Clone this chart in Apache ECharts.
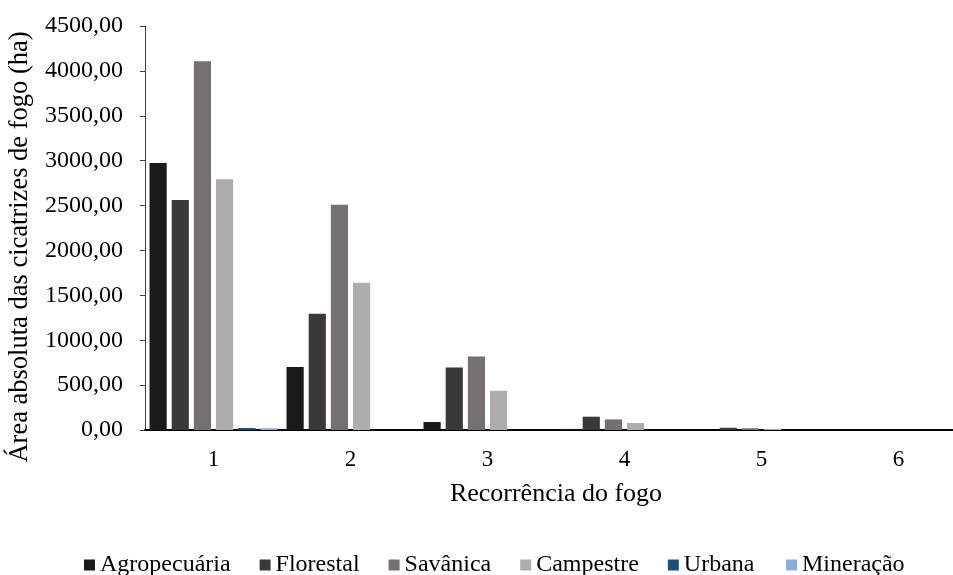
<!DOCTYPE html>
<html>
<head>
<meta charset="utf-8">
<script src="https://cdn.jsdelivr.net/npm/echarts@6/dist/echarts.min.js"></script>
<style>
  html, body { margin: 0; padding: 0; background: #fff; overflow: hidden; }
  #chart { width: 980px; height: 575px; }
</style>
</head>
<body>
<div id="chart"></div>
<script>
// Recorrência do fogo (número de vezes que a área queimou)
const categories = ['1', '2', '3', '4', '5', '6'];

// Área absoluta das cicatrizes de fogo (ha) por classe de uso e cobertura
const agropecuaria = [2975, 703, 89, 12, 0, 0];
const florestal    = [2563, 1296, 696, 148, 25, 0];
const savanica     = [4107, 2510, 820, 118, 20, 0];
const campestre    = [2793, 1641, 437, 78, 12, 0];
const urbana       = [22, 0, 0, 0, 0, 0];
const mineracao    = [20, 0, 0, 0, 0, 0];

const seriesNames = ['Agropecuária', 'Florestal', 'Savânica', 'Campestre', 'Urbana', 'Mineração'];
const seriesData = [agropecuaria, florestal, savanica, campestre, urbana, mineracao];
const seriesColors = ['#1a1a1a', '#3b3938', '#767170', '#afabab', '#1f4e79', '#8faadc'];

const FONT = '"Liberation Serif", "DejaVu Serif", serif';

const chart = echarts.init(document.getElementById('chart'), null, { renderer: 'canvas' });

const legendBase = {
  top: 548,
  icon: 'rect',
  itemWidth: 11,
  itemHeight: 11,
  itemGap: 29,
  textStyle: { fontFamily: FONT, fontSize: 24, color: '#000' }
};

chart.setOption({
  animation: false,
  backgroundColor: '#ffffff',
  textStyle: { fontFamily: FONT, color: '#000' },
  grid: { left: 145, top: 26, width: 822, height: 404, containLabel: false },
  legend: [
    Object.assign({ left: 79, data: seriesNames.slice(0, 5) }, legendBase),
    Object.assign({ left: 781, data: seriesNames.slice(5) }, legendBase)
  ],
  xAxis: {
    type: 'category',
    data: categories,
    name: 'Recorrência do fogo',
    nameLocation: 'middle',
    nameGap: 51,
    nameTextStyle: { fontFamily: FONT, fontSize: 26, color: '#000' },
    axisLine: { show: true, lineStyle: { color: '#000', width: 2 } },
    axisTick: { show: false },
    axisLabel: { fontFamily: FONT, fontSize: 23, color: '#000', margin: 18 },
    splitLine: { show: false }
  },
  yAxis: {
    type: 'value',
    min: 0,
    max: 4500,
    interval: 500,
    axisLine: { show: true, lineStyle: { color: '#3f3f3f', width: 1 } },
    axisTick: { show: true, inside: false, length: 5, lineStyle: { color: '#3f3f3f' } },
    axisLabel: {
      fontFamily: FONT, fontSize: 24, color: '#000', margin: 22,
      formatter: v => v.toFixed(2).replace('.', ',')
    },
    splitLine: { show: false }
  },
  graphic: [{
    type: 'text',
    x: 20,
    y: 247,
    rotation: Math.PI / 2,
    style: {
      text: 'Área absoluta das cicatrizes de fogo (ha)',
      font: '26.5px ' + FONT,
      fill: '#000',
      align: 'center',
      verticalAlign: 'middle'
    }
  }],
  series: seriesNames.map((name, i) => ({
    name,
    type: 'bar',
    data: seriesData[i],
    barGap: '29%',
    barCategoryGap: '6.6%',
    itemStyle: { color: seriesColors[i] }
  }))
});
</script>
</body>
</html>
